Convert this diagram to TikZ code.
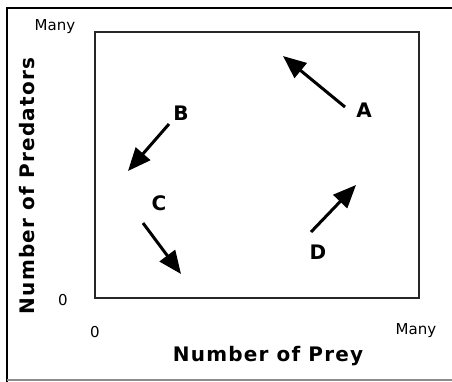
\documentclass[tikz,border=0pt]{standalone}
\usepackage{fontspec}
\setmainfont{DejaVu Sans}
\usetikzlibrary{arrows.meta}
\begin{document}
\begin{tikzpicture}[x=1pt,y=-1pt,
  frame/.style={line width=2pt,black},
  plotbox/.style={line width=1.8pt,black!85},
  axlabel/.style={font=\fontsize{20}{22}\selectfont\bfseries\addfontfeatures{LetterSpace=6},inner sep=0pt},
  small/.style={font=\fontsize{15}{17}\selectfont,inner sep=0pt},
  letter/.style={font=\fontsize{20}{22}\selectfont\bfseries,inner sep=0pt},
  trend/.style={line width=3pt,-{Triangle[length=23pt,width=19pt]}}]
\useasboundingbox (0,0) rectangle (452,381);
\fill[white] (0,0) rectangle (452,381);
% outer frame
\draw[frame] (7,460) -- (7,8) -- (460,8);
\draw[line width=1.5pt,black!45] (7,380) -- (460,380);
% plot box
\draw[plotbox] (95,32) rectangle (419,298);
% axis labels
\node[small] (ymany) at (55,27) {Many};
\node[small] (yzero) at (63,300) {0};
\node[small] (xzero) at (95,332) {0};
\node[small] (xmany) at (416,331) {Many};
\node[axlabel] (xlab) at (268,356) {Number of Prey};
\node[axlabel,rotate=90] (ylab) at (27,186) {Number of Predators};
% letters
\node[letter] (la) at (364,110) {A};
\node[letter] (lb) at (181,113) {B};
\node[letter] (lc) at (159,203) {C};
\node[letter] (ld) at (318,252) {D};
% arrows
\coordinate (atail) at (345,107);
\coordinate (atip) at (283,56);
\coordinate (btail) at (169,124);
\coordinate (btip) at (128,171);
\coordinate (ctail) at (143,223);
\coordinate (ctip) at (181,274);
\coordinate (dtail) at (311,232);
\coordinate (dtip) at (356,185);
\draw[trend] (atail) -- (atip);
\draw[trend] (btail) -- (btip);
\draw[trend] (ctail) -- (ctip);
\draw[trend] (dtail) -- (dtip);
\end{tikzpicture}
\end{document}
